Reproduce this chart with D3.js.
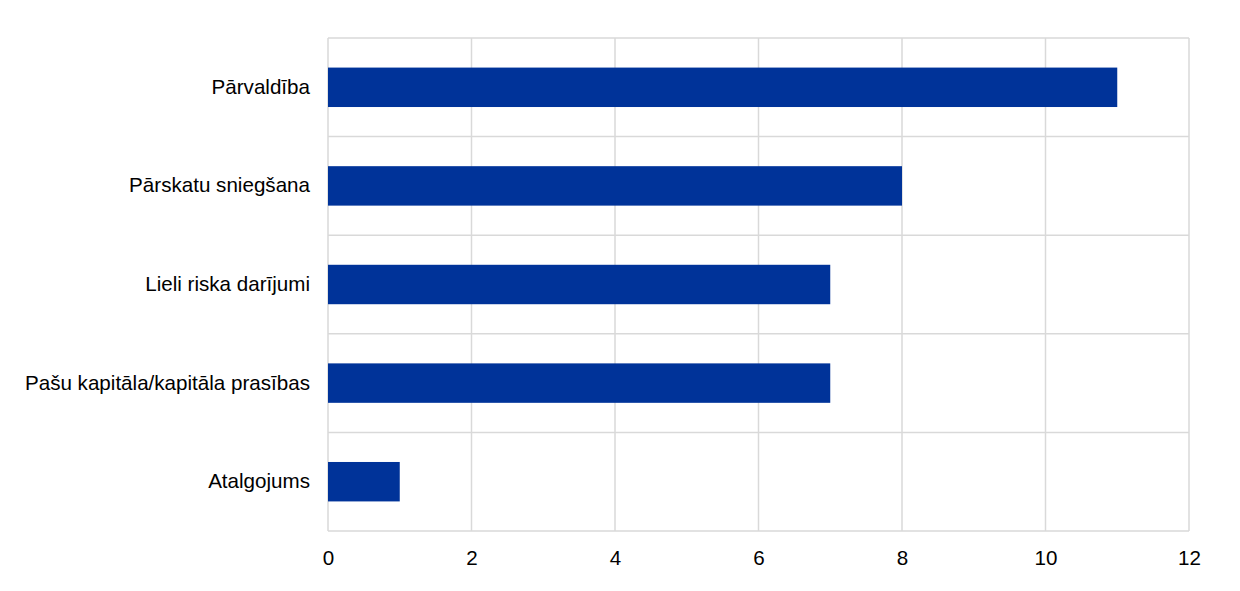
<!DOCTYPE html>
<html><head><meta charset="utf-8">
<script src="https://cdn.jsdelivr.net/npm/d3@7"></script>
<style>body{margin:0;background:#fff}svg{display:block}</style>
</head><body>
<svg id="c" width="1240" height="591"></svg>
<script>
const categories = ["Pārvaldība","Pārskatu sniegšana","Lieli riska darījumi","Pašu kapitāla/kapitāla prasības","Atalgojums"];
const values = [11, 8, 7, 7, 1];
const xTicks = [0, 2, 4, 6, 8, 10, 12];

const svg = d3.select("#c");
const L = 328, R = 1189, T = 38, B = 531;
const x = d3.scaleLinear().domain([0, 12]).range([L, R]);
const y = d3.scaleBand().domain(categories).range([T, B]).paddingInner(0.6).paddingOuter(0.3);
const yb = d3.scaleBand().domain(categories).range([T, B]);
const grid = "#d9d9d9";
const font = "Liberation Sans, Arial, sans-serif";

svg.append("g").selectAll("line").data(xTicks).join("line")
  .attr("x1", d => x(d)).attr("x2", d => x(d)).attr("y1", T).attr("y2", B)
  .attr("stroke", grid).attr("stroke-width", 1.5);
const bounds = categories.map(c => yb(c)).concat([B]);
svg.append("g").selectAll("line").data(bounds).join("line")
  .attr("x1", L).attr("x2", R).attr("y1", d => d).attr("y2", d => d)
  .attr("stroke", grid).attr("stroke-width", 1.5);

svg.append("g").selectAll("rect").data(values).join("rect")
  .attr("x", x(0)).attr("y", (d, i) => y(categories[i]))
  .attr("width", d => x(d) - x(0)).attr("height", y.bandwidth())
  .attr("fill", "#003399");

const xa = svg.append("g").attr("transform", `translate(0,${B})`)
  .call(d3.axisBottom(x).tickValues(xTicks).tickSize(0).tickPadding(19));
xa.select(".domain").remove();
xa.selectAll("text").attr("font-family", font).attr("font-size", 20.6).attr("fill", "#000");

const ya = svg.append("g").attr("transform", `translate(${L},0)`)
  .call(d3.axisLeft(yb).tickSize(0).tickPadding(18));
ya.select(".domain").remove();
ya.selectAll("text").attr("font-family", font).attr("font-size", 20.6).attr("fill", "#000");
</script>
</body></html>
